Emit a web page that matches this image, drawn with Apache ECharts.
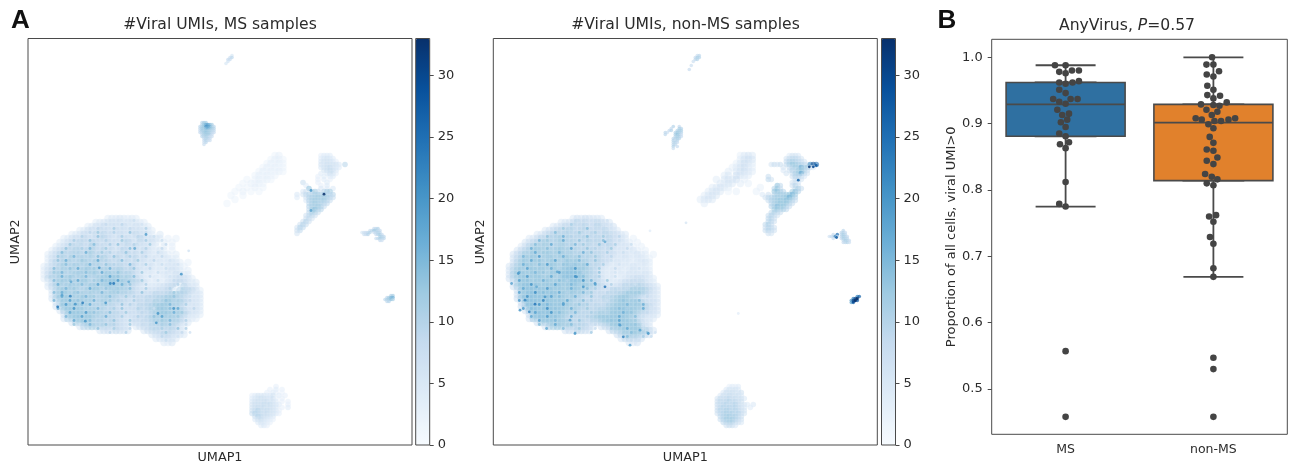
<!DOCTYPE html>
<html><head><meta charset="utf-8">
<style>html,body{margin:0;padding:0;background:#fff}#c{width:1290px;height:467px}#c canvas{filter:blur(0.5px)}</style>
<script src="https://cdn.jsdelivr.net/npm/echarts@6/dist/echarts.min.js"></script>
</head><body><div id="c"></div>
<script>
// Cell values; one base-36 digit per cell, '.' = no cell.
const msBlob = [
"................45565454",
".............4566767566554",
"...........4576867768657645",
".........4578697868776867654",
".......45687697a786876797654.5",
".....4578798789a87687867a86765.3.3",
"....45788a98a98797869a8697675.4.3",
"...4578a9a88ba897868797a67654.4.3",
"..4689a9ba9ab98a7968a8786875464.3",
".468ab9bab9bc9a8a7898a7968654654.4",
".478ab9cabbab9ac98a9797a6865645544",
".48a9bcaabcbacb9a98a897967564645654.3",
"4689bcabcbacbab9ba9a98a8675745465643",
"479bacbcabcdbcacbabca9a875654545765.4",
"48abcbabcdbbcdabdcbcaba86545345647654",
"49bacbcdabcbabcdcddcbca975435345678764",
".48bcdbacbdcabcddedcdbba975344366898645",
".59bcacdbcabdcbcddcbca9865455678990a755",
"..6acdcbcabcbdcabcdcbba87676788990aba974",
"..5bcdcbdbcbcabcbcbab9a87878a99abcba9655",
"..6bdcdcbcdbcabbcab9897898a9abbccba97565",
"...6bdccdcbcbabcab9a987898a9cacdcbca8665",
"...7cddcdcbcabab9a978797a9abcddcbba85665",
"....6cddcdcbcbab9a987878a8abcddcbcba7665",
".....7cdddcdcbcab9a98787898abcddcbca9564",
".....6bcddcdcbab9a98767898abcbcbcba8454",
".......7bcdcbaba9a987678798abbcbaba75",
".........6abcbab9a9876.6798a9abaa964",
"..............67869876...689a989a864",
"...........................678a98765",
"............................566865",
"..............................546"];
const nonMsBlob = [
"................57687665",
".............5678a89789876",
"...........56798a89a78a9867",
".........5789a9ba89a9898a765",
".......5689ab9ba9ab89a98a98765",
".....568a9babcab9a9ba8a98a8765.3",
"....679abcbabcbab9a8b9a97a86754.3",
"...57abcbcbabcbab9a9a89a8a875653.3",
"..68abcdcbcbcdbcab9a9a89797565464.3",
".68acbdcbcdbcdbcbabab9a987865654654.3",
".69bdcdcbcdcbcdcbcbab9a9786556545543",
".7acdbdcdbcdcbddcdbca9a9874654535564",
"69bcddcbdcddcbddedcdb9a8654545465453",
"6acdbddcdcbdcddeeddcba86545453565454",
"6bcddcddcbcdcdeeedecba96545354656565",
"7acdddcddcdcbdeeeddcb9a75453456788654",
".6bdddcdcddcdcddeedcba986545688989754",
".7cdeedecdddedcdddcdcba976678a9aba9865",
"..8ddeedededcdcdddcba98878aa9abcbcb975",
"..7cdeeedddedcdcdbcab9898a9abcdcdba865",
"..8deeedededcdcbcba98989babcddcba86765",
"...7deeeddedddcdbab9a8989abcddcddb9776",
"...8deeddeeddddcbcab99a9abcddddcdcb975",
"....7deedeedddcbcba9a9abbcdddeddcba876",
".....8deededddcbab9a9abcbcdddddcb98765",
".....7ddeddddcb9a9a9abcdddddddcba7655",
".......8cdddcdcba9a98a9bcddddddcb965",
".........7bcdcbcba9a86.79acddddddb75",
"..............787a987....7abcdcddcb96",
"...........................8acbdcba7",
"............................69b9a7",
"..............................657"];
const msGrain = [
"......................7.",
"...............8...9....6.",
".............9...b...8...a.",
"...........9.c...a...d...8.",
".........a...d.8...b...9...7.",
".......b...d...a...c.8...b...7.",
"......c.7...e...b.d...a...c...8.",
".....d...b.f...c...9.e...a...8..",
"....e.9...g...c.a...d...b...7....",
"...c...f.a...e...d...b...9...8...",
"...d.g...c...h.a...e...c...9...6.",
".....e.b...g...d.a...f...b...7...6",
"..e...d.h...c...g.a...d...9...7..",
"..c.f...b.e...h...d.a...c...7.....",
"....g.c...f.a...i.d...e...8....6.",
"..e...d.h...c.f...j.a...c...7...8",
"...g.b...e...i.b...g.d...a.....7.a.",
".....f.c...h...d.a...e...b...6.a...8",
"..e.g...d.a...f...c.a...d...8...c.a",
"....h.b...f.c...e...c.a...9...b.d...7",
"..f...i.d...g...c.a...b...8...d.a...8",
"...7.j...e.h...c...d.a...9...c.f...b",
"...g...k.c...f...b.d...a...7...e.h...9",
"....8.h...j.d...e...c...9...b...g.c.6",
".....f...i.c...g...b...a...d.i...c.7.",
".....7.h...e.a...d...c...8...c.f...a",
".......c...f...d.a...c...7...b.e...7",
".........7...d...b...9.......b...d.a.",
"................9...a.........c...8.6",
".............................9...6",
"..............................7",
"................................"];
const nonMsGrain = [
".....................7..6.",
"...............b...8...6",
".............c...9.e...8...",
"...........e.9...c...b...7",
".........d...g.a...e...c...9.",
".......f.c...h...d.a...e...7.",
"......e...h.a...f.c...d...b...7.",
".....g...e.b...i...d.a...c...8...",
"......h.c...f.a...g.d...b...7.....",
"...f...j.b...g...e...c...9.......",
".....h.d...i.a...f...d...7........",
"...g...e.j...d.b...h...b...6.......",
"....i.c...g.a...k.c...c...8.....6.",
"..h...f.d...j...e.a...d...6.......",
"....j.c...h.b...l.e...b...7.....6",
"..i.d...g...e.a...k.f...c.......7",
".....k.c...i...f.b...h...a.....7...",
"...h.d...j.c...g...e.b...8...8...a",
"..i...l.e...h.a...f.c...9...a...c.",
"....k.d...i.e...g...d...8...c.a...8",
"..j.e...m.c...h...e.a...7...d...e.",
"...8...k.f...j...d.b...8...c.f...g",
"...j.e...l.d...g...c...9...e.b...h.6",
"....8.i...k.e...f...b...a...g.d...8",
".....h...j.d...g...a...c...h...e.7",
".....8.i...f.b...d...9...d.i...c",
".......e...h...e.a...8...c.g...d.6",
".........8...e...c...7...b...h.c.7",
"................a...b.........e...d.6",
".............................e...b.7",
"..............................8...",
"..............................."];
const msWisp = ["............23..","...........2332.","..........23232.",".........232322.","........2323232.",".......232322...",".....2.23232....","....2.3232......","...2.2.3.2......","..2.3.2.2.......",".2..2...........","..2.............","2..............."];
const nonMsWisp = ["............3565","............4676","...........35764","..........346753",".........4.56754","........45.7654","......4.5657.3.",".......5465.4.3",".....45654.......3","....4565.2.3....3","...4565..","..4565...","...4....."];
const msBottom = ["........3..","......3.4.3",".....3.43.2","34656456.4.3","456766573.3..","567677564.3.3","6777878654..3","678786765.3.4","78a8787653..","8a98786653",".8a97765",".5786543","..56543","...453"];
const nonMsBottom = ["....3434","...56565","..5767657",".57687675","6878978675","7989a8977..","889a89a8664.5","79a9a9a875.4","8a9ba9a976","79abab9a86",".9abcab97",".8acbca97","..9abb975","...7885"];
const msRight = [".........3444",".........45654",".........566653",".........6576665.a",".........5678654","..........67875",".........4.5773","........3.4.54","........3.4.3","...8....3..4","....4....3.4",".....e...5.4.5","...57.9c8.abc",".5.69a9bbaba9a",".4..7abbcbcba8","....5abcbbca8",".....9bcbaa9",".....abbcb8",".....8ceba",".....9bc8","....79a7","....796","...7a7","..7a8",".6a9",".79",".6"];
const nonMsRight = ["..........4665",".........689986",".........8aba986","....6868.9bdcba97muq","........6.8acbhbc84","........5.7a9cdb8",".........6.8bcjb6","...8.......7aa95","...97.......886","...........675","......e9...7a6",".....ad8....9b8",".....deba..cea",".5.7.abcbcdgc","..79abcbcdhda","...8abcdcecb8","....9bcdcdb8","....abfcdb8",".....cdbc9","....9ba8","...8a96","...9a7","...9a7","..9b8","..7a97","..8a97","...76"];
const msTop = ["...5","..79",".88.",".6..","5..."];
const nonMsTop = ["....79","...8ba","...9a.","..7...","......",".7....","......","8....."];
const msUpper = [".9cb....",".adhjfb.","9bdljhc9","9ccfheca","8cbdcba9","8acdcb98",".9bccb8.",".9aba87.","..9aa8..","..8a87..","..79....","..7....."];
const nonMsUpper = ["........","....a..8.","...8...ba","..8a..abb","97...acba","9....bdb8",".....abb8","....9aba.","....a8a..","....9a8..","....99...","....a.8..","....7...."];
const msHook = ["......89a..","....79cb98.","5789a.89a9.",".78a...8ab8",".........ba9",".......79ba9",".........87"];
const nonMsHook = [".......9..","......9a8.","..8.p.9b9","689n8.9ba8","..7...8ba9",".......9ba8",".......89a7"];
const msDot = ["...ab.",".9cfg.","9bceb.",".9a.."];
const nonMsDot = ["...mr.",".nux.","kvxs.","iq.."];
const msSpecks = [[85.7,245,24],[82.3,245,22],[29.7,268.3,24],[42.3,257.7,22],[54.7,264.3,23],[47.3,265.7,20],[71.3,229.3,20],[77.7,264.3,20],[118,196,19],[106.7,210,17],[145.7,270,20],[130,275,20],[128.3,284.3,20],[153.3,235.7,20],[57.3,282.7,20],[43,243.3,17],[100.7,243.3,17],[34,256.7,18],[160.7,212.3,6],[296,155.7,33],[283,152,20],[283,172,18]];
const nonMsSpecks = [[25,235,20],[83.3,238.3,20],[90,248.3,20],[101.7,245,19],[111.7,248.3,24],[31.7,261.7,22],[41.7,265.7,24],[36,273.3,22],[51.7,258.3,20],[64,233.3,18],[81.7,295,20],[111.7,203.3,17],[126.7,286.7,19],[146.7,291.7,18],[155,295,20],[130,298.3,22],[76.7,281.7,18],[136.7,306.7,18],[53.3,290,17],[18.3,245,18],[26.7,271.7,20],[70,265,18],[43.3,248.3,17],[245,275,3],[192.7,184.3,5],[156.7,192.3,3],[320,128.3,30],[316,128.3,32],[323,127,28],[305,141.7,26],[343.3,199,28],[361.7,262.3,33],[363.5,260.5,33],[360,263.5,30]];
const cbTicks = [0,5,10,15,20,25,30];
const cbMax = 33;
const boxCategories = ["MS","non-MS"];
const msBox = [0.775,0.881,0.929,0.962,0.988];
const nonMsBox = [0.669,0.814,0.9015,0.929,1.0];
const boxTicks = [0.5,0.6,0.7,0.8,0.9,1.0];
const msSwarm = [[-.072,.988],[0,.988],[-.043,.978],[0,.976],[.043,.98],[.09,.98],[-.043,.962],[0,.96],[.047,.962],[.09,.964],[-.043,.951],[0,.946],[-.084,.937],[-.043,.933],[0,.93],[.034,.937],[.081,.937],[-.056,.921],[-.023,.913],[.023,.915],[-.032,.902],[.011,.906],[0,.895],[-.043,.885],[0,.881],[-.038,.869],[.023,.872],[0,.863],[0,.812],[-.043,.779],[0,.775],[0,.557],[0,.458]];
const nonMsSwarm = [[-.009,1],[-.047,.989],[0,.989],[-.045,.974],[.038,.979],[0,.971],[-.041,.957],[0,.951],[-.041,.943],[0,.938],[.045,.942],[-.084,.929],[0,.928],[.09,.932],[.041,.927],[-.047,.921],[.027,.918],[-.011,.913],[-.12,.908],[-.079,.906],[-.034,.899],[.007,.904],[.052,.904],[.102,.906],[.147,.908],[0,.893],[-.025,.88],[0,.871],[-.045,.861],[0,.859],[.027,.849],[-.045,.844],[0,.839],[-.056,.824],[-.011,.82],[.027,.816],[-.045,.81],[0,.807],[-.029,.76],[.018,.762],[0,.752],[-.023,.729],[0,.719],[0,.682],[0,.669],[0,.547],[0,.53],[0,.458]];

const blues = ['#f7fbff','#deebf7','#c6dbef','#9ecae1','#6baed6','#4292c6','#2171b5','#08519c','#08306b'];
const textColor = '#2b2b2b', lineColor = '#4a4a4a', font = 'DejaVu Sans';

function cells(rows, ox, oy, step){
  const out=[];
  rows.forEach((row,r)=>{ [...row].forEach((ch,c)=>{ if(ch!=='.') out.push([ox+c*step, oy+r*step, parseInt(ch,36)]); }); });
  return out;
}
function panelSeries(ax, d){
  const base={type:'scatter',xAxisIndex:ax,yAxisIndex:ax,silent:true,animation:false,progressive:0,large:false};
  return [
    {...base,symbolSize:7.4,itemStyle:{opacity:0.5},data:[...cells(d.blob,16,180,4),...cells(d.wisp,199,117,4)]},
    {...base,symbolSize:5.6,itemStyle:{opacity:0.55},data:[...cells(d.bottom,224,348,3),...cells(d.right,266,117,3)]},
    {...base,symbolSize:3.6,itemStyle:{opacity:0.7},data:[...cells(d.top,d.topX,17,2),...cells(d.upper,172,d.upperY,2),...cells(d.hook,d.hookX,d.hookY,2),...cells(d.dot,d.dotX,d.dotY,2)]},
    {...base,symbolSize:2.8,itemStyle:{opacity:0.85},data:[...cells(d.grain,18,182,4),...d.specks]}
  ];
}
const ms={blob:msBlob,grain:msGrain,wisp:msWisp,bottom:msBottom,right:msRight,top:msTop,topX:198,upper:msUpper,upperY:84,hook:msHook,hookX:334,hookY:190,dot:msDot,dotX:357,dotY:257,specks:msSpecks};
const nonMs={blob:nonMsBlob,grain:nonMsGrain,wisp:nonMsWisp,bottom:nonMsBottom,right:nonMsRight,top:nonMsTop,topX:196,upper:nonMsUpper,upperY:86,hook:nonMsHook,hookX:336,hookY:192,dot:nonMsDot,dotX:358,dotY:258,specks:nonMsSpecks};

const plotTop=38.5, plotH=406.5;
const frame={show:true,borderColor:lineColor,borderWidth:1,backgroundColor:'transparent',outerBoundsMode:'none',containLabel:false};
const grids=[
 {left:28,top:plotTop,width:384,height:plotH,...frame},
 {left:415.7,top:plotTop,width:14,height:plotH,...frame,z:10},
 {left:493.3,top:plotTop,width:384,height:plotH,...frame},
 {left:881.5,top:plotTop,width:14,height:plotH,...frame,z:10},
 {left:991.7,top:39.3,width:295.6,height:395,...frame}
];
const lab={color:textColor,fontFamily:font,fontSize:12.8};
const noLine={show:false,onZero:false};
function umapX(i){return {type:'value',gridIndex:i,min:0,max:384,name:'UMAP1',nameLocation:'middle',nameGap:6,nameTextStyle:{...lab},axisLine:noLine,axisTick:{show:false},axisLabel:{show:false},splitLine:{show:false}};}
function umapY(i){return {type:'value',gridIndex:i,min:0,max:plotH,inverse:true,name:'UMAP2',nameLocation:'middle',nameGap:6,nameTextStyle:{...lab},axisLine:noLine,axisTick:{show:false},axisLabel:{show:false},splitLine:{show:false}};}
function cbX(i){return {type:'value',gridIndex:i,min:0,max:1,show:false};}
function cbY(i){return {type:'value',gridIndex:i,min:0,max:cbMax,position:'right',z:11,axisLine:noLine,splitLine:{show:false},
  axisTick:{show:true,length:4,lineStyle:{color:lineColor},customValues:cbTicks},axisLabel:{...lab,fontSize:13,margin:8,customValues:cbTicks}};}
function vm(left,seriesIndex){return {type:'continuous',min:0,max:cbMax,dimension:2,seriesIndex,left,top:plotTop,itemWidth:14,itemHeight:plotH,padding:0,calculable:false,realtime:false,text:null,showLabel:false,inRange:{color:blues},hoverLink:false,textStyle:{fontSize:0,color:'transparent'},formatter:()=>''};}
function ttl(text,cx,y,extra){return {text,left:cx,top:y,textAlign:'center',textVerticalAlign:'middle',padding:0,textStyle:{color:textColor,fontFamily:font,fontSize:15.6,fontWeight:'normal',...extra}};}

const s1=panelSeries(0,ms), s2=panelSeries(2,nonMs);
const boxBase={type:'boxplot',yAxisIndex:4,silent:true,animation:false};
const colors=['#2f70a1','#e1812c'];
const boxSeries=[
 {...boxBase,xAxisIndex:4,boxWidth:[60,60],itemStyle:{color:'transparent',borderColor:lineColor,borderWidth:1.8},data:[msBox,nonMsBox]},
 {...boxBase,xAxisIndex:5,boxWidth:[119,119],z:3,data:[msBox,nonMsBox].map((b,i)=>({value:[b[1],b[1],b[2],b[3],b[3]],itemStyle:{color:colors[i],borderColor:lineColor,borderWidth:1.6}}))}
];
const swarm={type:'scatter',xAxisIndex:6,yAxisIndex:4,silent:true,animation:false,z:5,symbolSize:6.6,itemStyle:{color:'#444444',opacity:1},
  data:[...msSwarm.map(p=>[p[0],p[1]]),...nonMsSwarm.map(p=>[1+p[0],p[1]])]};

const chart=echarts.init(document.getElementById('c'),null,{renderer:'canvas'});
chart.setOption({
 animation:false,backgroundColor:'#fff',
 title:[
  ttl('#Viral UMIs, MS samples',220,25),
  ttl('#Viral UMIs, non-MS samples',685.5,25),
  {text:'AnyVirus, {i|P}=0.57',left:1127,top:26,textAlign:'center',textVerticalAlign:'middle',padding:0,textStyle:{color:textColor,fontFamily:font,fontSize:15.6,fontWeight:'normal',rich:{i:{fontStyle:'italic',fontFamily:font,fontSize:15.6,color:textColor}}}},
  {text:'A',left:20.5,top:21,textAlign:'center',textVerticalAlign:'middle',padding:0,textStyle:{color:'#111',fontFamily:'Liberation Sans',fontSize:26,fontWeight:'bold'}},
  {text:'B',left:947,top:21,textAlign:'center',textVerticalAlign:'middle',padding:0,textStyle:{color:'#111',fontFamily:'Liberation Sans',fontSize:26,fontWeight:'bold'}}
 ],
 grid:grids,
 visualMap:[vm(415.7,[0,1,2,3]),vm(881.5,[4,5,6,7])],
 xAxis:[umapX(0),cbX(1),umapX(2),cbX(3),
  {type:'category',gridIndex:4,data:boxCategories,axisLine:noLine,axisTick:{alignWithLabel:true,length:4,lineStyle:{color:lineColor}},axisLabel:{...lab,fontSize:12.5,margin:9},splitLine:{show:false}},
  {type:'category',gridIndex:4,data:boxCategories,show:false},
  {type:'value',gridIndex:4,min:-0.5,max:1.5,show:false}],
 yAxis:[umapY(0),cbY(1),umapY(2),cbY(3),
  {type:'value',gridIndex:4,min:0.4317,max:1.0271,name:'Proportion of all cells, viral UMI>0',nameLocation:'middle',nameGap:34,nameTextStyle:{...lab,fontSize:13},axisLine:noLine,splitLine:{show:false},
   axisTick:{show:true,length:4,lineStyle:{color:lineColor},customValues:boxTicks},axisLabel:{...lab,fontSize:13,margin:9,customValues:boxTicks,formatter:v=>Number(v).toFixed(1)}}],
 series:[...s1,...s2,...boxSeries,swarm]
});
</script></body></html>
